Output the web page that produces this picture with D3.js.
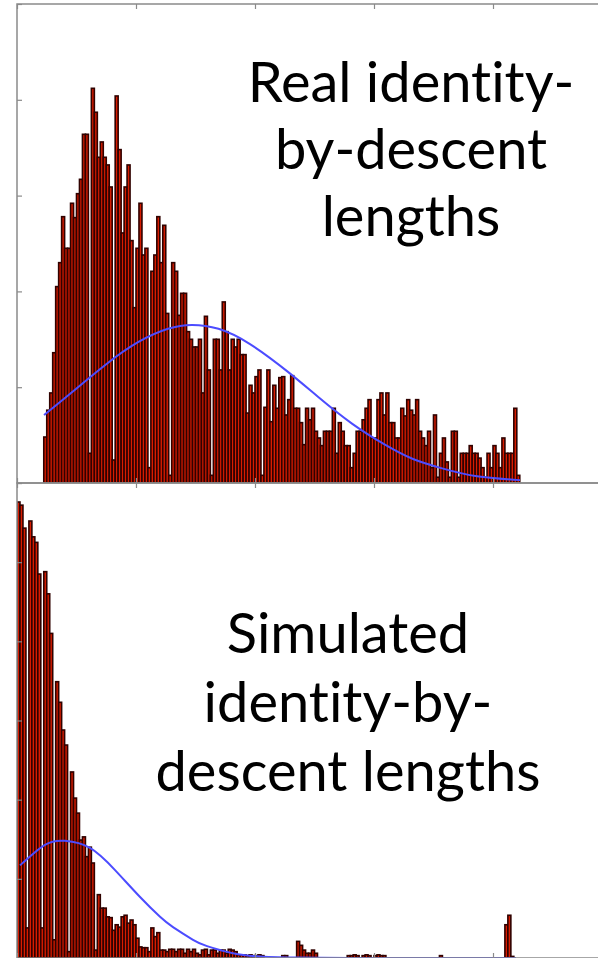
<!DOCTYPE html>
<html lang="en">
<head>
  <meta charset="UTF-8">
  <title>Identity-by-descent length histograms</title>
  <style>
    body { margin: 0; background: #fff; }
    svg { display: block; }
    .frame { fill: none; stroke: #8a8a8a; stroke-width: 1.5; }
    .tick line { stroke: #8a8a8a; stroke-width: 1.2; }
    .label {
      font-family: Lato, sans-serif; font-size: 56px; fill: #000;
      font-variant-ligatures: none; font-feature-settings: "liga" 0, "clig" 0;
    }
  </style>
</head>
<body>
  <svg id="chart"></svg>
  <script src="https://cdn.jsdelivr.net/npm/d3@7/dist/d3.min.js"></script>
  <script>
    // shared x axis (length units) and histogram bins
    var xTicks = [0, 1, 2, 3, 4, 5];
    var binWidth = 0.025;

    // real IBD lengths: first bin starts at 0.225
    var realStart = 0.225;
    var realCounts = [
      48, 76, 94, 136, 205, 230, 278, 245, 245, 292, 277, 302, 317, 364, 364, 31, 412, 387, 340, 356,
      340, 332, 309, 24, 404, 348, 261, 309, 332, 253, 183, 245, 292, 238, 245, 16, 221, 238, 278, 230,
      269, 177, 8, 230, 221, 175, 198, 198, 158, 150, 142, 142, 150, 94, 174, 118, 8, 150, 150, 118,
      189, 158, 118, 150, 142, 150, 134, 134, 73, 102, 94, 111, 118, 8, 79, 118, 64, 102, 78, 110,
      111, 71, 87, 112, 78, 78, 63, 40, 78, 66, 78, 54, 47, 39, 54, 54, 54, 78, 31, 63,
      54, 39, 39, 16, 31, 54, 54, 66, 78, 87, 47, 47, 87, 94, 71, 94, 63, 63, 47, 47,
      78, 70, 87, 76, 71, 87, 54, 47, 39, 54, 16, 71, 6, 31, 47, 22, 6, 54, 54, 6,
      31, 31, 31, 39, 31, 31, 26, 16, 6, 31, 16, 39, 31, 16, 47, 31, 31, 31, 78, 8
    ];
    // fitted curve
    var realFitX = [0.227, 0.454, 0.739, 1.017, 1.269, 1.470, 1.693, 1.958, 2.277, 2.529, 2.815, 3.092, 3.328, 3.580, 3.866, 4.227];
    var realFitY = [71, 94, 123, 147, 161, 165, 161, 145, 116, 90, 62, 40, 25, 15, 7, 3];
    var realTicks = [0, 100, 200, 300, 400, 500];
    var realTitle = ["Real identity-", "by-descent", "lengths"];

    // simulated IBD lengths: first bin starts at 0
    var simStart = 0;
    var simCounts = [
      576, 572, 543, 38, 552, 532, 525, 485, 38, 488, 460, 410, 23, 349, 323, 288, 269, 8, 235, 202,
      183, 149, 153, 128, 140, 120, 10, 80, 63, 63, 52, 51, 35, 42, 39, 52, 54, 44, 48, 42,
      25, 14, 13, 13, 8, 38, 27, 32, 10, 10, 8, 11, 11, 8, 11, 11, 6, 11, 8, 11,
      6, 4, 10, 11, 4, 10, 10, 6, 10, 10, 6, 11, 10, 8, 4, 4, 4, 3, 4, 3,
      3, 4, 3, 0, 0, 0, 0, 0, 0, 3, 3, 0, 0, 0, 21, 16, 10, 6, 6, 10,
      6, 0, 0, 0, 0, 0, 0, 0, 0, 0, 0, 3, 3, 4, 3, 0, 3, 4, 3, 0,
      3, 4, 3, 3, 0, 0, 0, 0, 0, 0, 0, 0, 0, 0, 0, 0, 0, 0, 0, 0,
      0, 0, 3, 0, 0, 0, 0, 0, 0, 0, 0, 0, 0, 0, 0, 0, 0, 0, 0, 0,
      0, 0, 0, 0, 42, 54, 2
    ];
    var simFitX = [0.025, 0.235, 0.403, 0.613, 0.824, 1.034, 1.202, 1.311, 1.479, 1.597, 1.815, 2.042, 2.378, 2.800, 3.218, 4.193];
    var simFitY = [117, 143, 148, 139, 111, 77, 52, 39, 23, 15, 6, 2, 0.5, 0, 0, 0];
    var simTicks = [0, 100, 200, 300, 400, 500, 600];
    var simTitle = ["Simulated", "identity-by-", "descent lengths"];

    var svgWidth = 598, svgHeight = 958;
    var left = 17, right = 612;

    var svg = d3.select('#chart')
      .attr('width', svgWidth)
      .attr('height', svgHeight);

    var xScale = d3.scaleLinear()
      .domain([0, 5])
      .range([left, right]);

    function drawPanel(id, top, bottom, counts, start, fitX, fitY, yTicks, title, textX, textY, lineGap) {
      var yScale = d3.scaleLinear()
        .domain([0, d3.max(yTicks)])
        .range([bottom, top]);

      var g = svg.append('g');

      g.append('clipPath')
        .attr('id', id)
        .append('rect')
        .attr('x', left).attr('y', top)
        .attr('width', right - left).attr('height', bottom - top);

      var barW = xScale(binWidth) - xScale(0);

      g.append('g')
        .attr('clip-path', 'url(#' + id + ')')
        .selectAll('rect')
        .data(counts)
        .enter()
        .append('rect')
        .attr('x', (d, i) => xScale(start + i * binWidth))
        .attr('y', d => yScale(d))
        .attr('width', barW)
        .attr('height', d => bottom - yScale(d))
        .attr('fill', '#d81c00')
        .attr('stroke', '#300200')
        .attr('stroke-width', 1.6);

      var line = d3.line()
        .x((d, i) => xScale(fitX[i]))
        .y(d => yScale(d))
        .curve(d3.curveNatural);

      g.append('path')
        .attr('clip-path', 'url(#' + id + ')')
        .attr('d', line(fitY))
        .attr('fill', 'none')
        .attr('stroke', '#4c4cff')
        .attr('stroke-width', 2);

      // inward ticks on all sides, no labels
      g.append('g')
        .attr('transform', `translate(0, ${top})`)
        .call(d3.axisTop(xScale).tickValues(xTicks).tickSize(-5).tickFormat(''))
        .call(s => s.select('.domain').remove());
      g.append('g')
        .attr('transform', `translate(0, ${bottom})`)
        .call(d3.axisBottom(xScale).tickValues(xTicks).tickSize(-5).tickFormat(''))
        .call(s => s.select('.domain').remove());
      g.append('g')
        .attr('transform', `translate(${left}, 0)`)
        .call(d3.axisLeft(yScale).tickValues(yTicks).tickSize(-5).tickFormat(''))
        .call(s => s.select('.domain').remove());

      g.append('rect')
        .attr('class', 'frame')
        .attr('x', left).attr('y', top)
        .attr('width', right - left).attr('height', bottom - top);

      g.append('g')
        .selectAll('text')
        .data(title)
        .enter()
        .append('text')
        .attr('class', 'label')
        .attr('x', textX)
        .attr('y', (d, i) => textY + i * lineGap)
        .attr('text-anchor', 'middle')
        .text(d => d);
    }

    drawPanel('clipReal', 4, 483, realCounts, realStart, realFitX, realFitY, realTicks, realTitle, 411, 102, 67);
    drawPanel('clipSim', 483, 958, simCounts, simStart, simFitX, simFitY, simTicks, simTitle, 348, 653, 69);
  </script>
</body>
</html>
